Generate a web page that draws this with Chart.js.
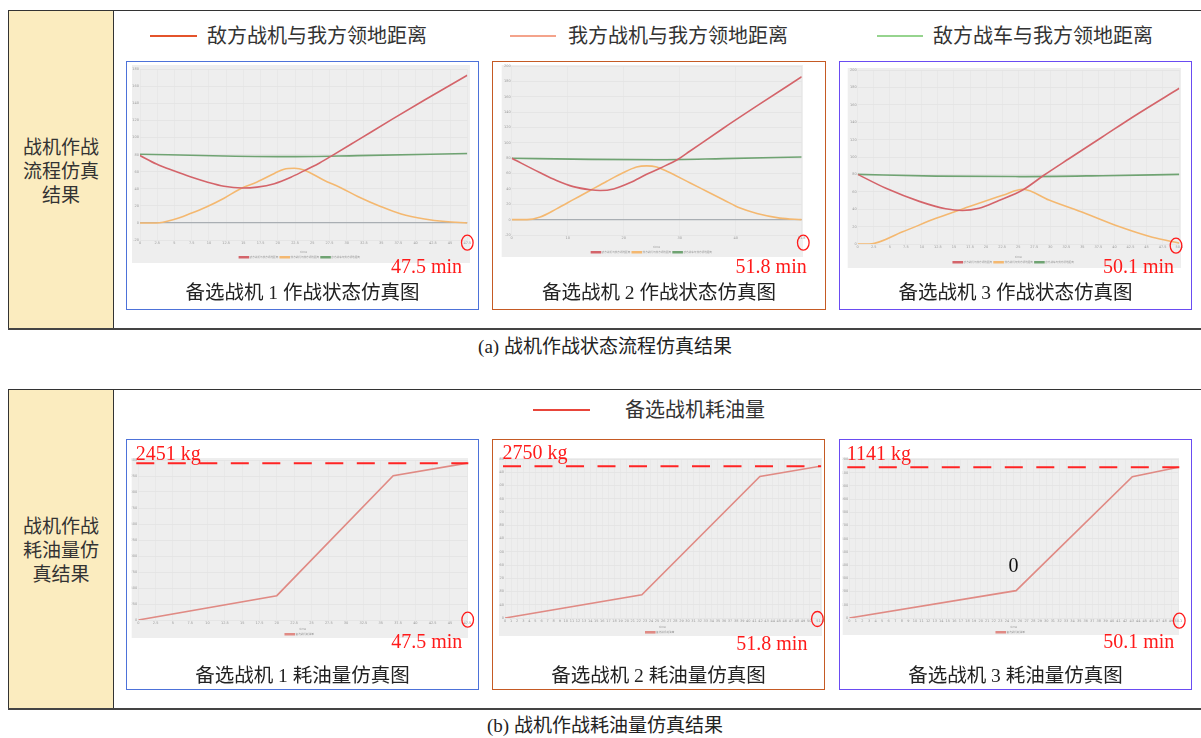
<!DOCTYPE html>
<html>
<head>
<meta charset="utf-8">
<script src="https://cdn.jsdelivr.net/npm/chart.js@4/dist/chart.umd.min.js"></script>
<style>
html,body{margin:0;padding:0;background:#fff;}
body{width:1201px;height:738px;position:relative;overflow:hidden;font-family:"Liberation Serif","Noto Sans CJK SC",serif;color:#333;}
.panel{position:absolute;left:8px;width:1195px;box-sizing:border-box;border-top:1px solid #333;border-bottom:2px solid #444;}
.side{position:absolute;left:0;top:0;bottom:0;width:106px;box-sizing:border-box;background:#fbecbf;border-left:1.5px solid #333;border-right:1.5px solid #333;display:flex;align-items:center;justify-content:center;text-align:center;font-family:"Noto Sans CJK SC",sans-serif;font-size:19px;line-height:24px;color:#333;}
.box{position:absolute;box-sizing:border-box;border:1.5px solid;pointer-events:none;}
canvas{position:absolute;}
.sub{position:absolute;text-align:center;font-size:19.5px;line-height:24px;color:#222;white-space:nowrap;}
.leg{position:absolute;font-size:20px;line-height:24px;white-space:nowrap;color:#333;}
.legline{position:absolute;height:1.6px;}
.cap{position:absolute;left:0;width:1210px;text-align:center;font-size:19px;line-height:24px;color:#222;}
</style>
</head>
<body>
<div class="panel" style="top:10px;height:320px;"><div class="side">战机作战<br>流程仿真<br>结果</div></div>
<div class="panel" style="top:389px;height:321px;"><div class="side">战机作战<br>耗油量仿<br>真结果</div></div>

<div class="legline" style="left:150px;top:35px;width:47px;background:#e4532b;"></div>
<div class="leg" style="left:207px;top:24px;">敌方战机与我方领地距离</div>
<div class="legline" style="left:510px;top:35px;width:46px;background:#f4a38b;"></div>
<div class="leg" style="left:568px;top:24px;">我方战机与我方领地距离</div>
<div class="legline" style="left:877px;top:35px;width:46px;background:#96d48e;"></div>
<div class="leg" style="left:933px;top:24px;">敌方战车与我方领地距离</div>
<div class="legline" style="left:533px;top:409px;width:57px;background:#e8453a;"></div>
<div class="leg" style="left:625px;top:398px;">备选战机耗油量</div>

<canvas id="a1"></canvas><canvas id="a2"></canvas><canvas id="a3"></canvas>
<canvas id="b1"></canvas><canvas id="b2"></canvas><canvas id="b3"></canvas>

<div class="box" style="left:126px;top:61px;width:353px;height:249px;border-color:#4d72d9;"></div>
<div class="box" style="left:492px;top:61px;width:334px;height:249px;border-color:#c55a24;"></div>
<div class="box" style="left:839px;top:61px;width:353px;height:249px;border-color:#6a4cf2;"></div>
<div class="box" style="left:126px;top:439px;width:353px;height:251px;border-color:#4d72d9;"></div>
<div class="box" style="left:492px;top:439px;width:333px;height:251px;border-color:#c55a24;"></div>
<div class="box" style="left:839px;top:439px;width:353px;height:251px;border-color:#6a4cf2;"></div>

<div class="sub" style="left:126px;width:353px;top:281px;">备选战机 1 作战状态仿真图</div>
<div class="sub" style="left:492px;width:334px;top:281px;">备选战机 2 作战状态仿真图</div>
<div class="sub" style="left:839px;width:353px;top:281px;">备选战机 3 作战状态仿真图</div>
<div class="sub" style="left:126px;width:353px;top:664px;">备选战机 1 耗油量仿真图</div>
<div class="sub" style="left:492px;width:333px;top:664px;">备选战机 2 耗油量仿真图</div>
<div class="sub" style="left:839px;width:353px;top:664px;">备选战机 3 耗油量仿真图</div>

<div class="cap" style="top:335px;">(a) 战机作战状态流程仿真结果</div>
<div class="cap" style="top:714px;">(b) 战机作战耗油量仿真结果</div>

<script>
// Mission duration of each candidate aircraft (min)
const missionMinutes = [47.5, 51.8, 50.1];

// Aircraft 1: distances to own territory (km) over time (min)
const a1EnemyT = [0, 2.4, 4.9, 7.3, 9.7, 12.2, 14.8, 17.0, 19.5, 21.9, 23.8, 25.8, 27.7, 31.6, 36.5, 41.3, 47.5];
const a1EnemyD = [79, 69, 61, 54, 48, 43, 41, 42, 46, 53.5, 61, 69, 78, 97, 121, 144, 173];
const a1OwnT = [0, 2.4, 4.9, 7.3, 9.7, 12.2, 14.8, 17.0, 19.5, 20.9, 22.4, 23.8, 26.7, 29.2, 31.6, 35.0, 37.9, 41.3, 44.3, 47.5];
const a1OwnD = [0, 0, 4, 11, 19, 29, 41, 48, 58, 63, 64, 62, 50, 41, 31, 19, 10.5, 4.7, 1.6, 0];
const a1VehT = [0, 12.2, 21.9, 31.6, 47.5];
const a1VehD = [80.5, 78.5, 77.7, 78.9, 81.3];

// Aircraft 2
const a2EnemyT = [0, 5.1, 8.0, 11.0, 14.0, 15.8, 18.2, 21.1, 24.1, 26.5, 29.8, 31.8, 37.8, 43.8, 51.8];
const a2EnemyD = [80, 61, 51, 43, 39, 38, 40, 48, 59, 67, 79, 89, 119, 148, 186];
const a2OwnT = [0, 2.7, 5.1, 8.0, 11.0, 14.0, 17.0, 19.9, 22.3, 24.1, 25.9, 27.7, 31.8, 34.8, 37.8, 40.8, 43.8, 47.9, 51.8];
const a2OwnD = [0, 0, 3.5, 14, 26, 38, 50, 61, 68.5, 70, 68.5, 63, 48, 37, 26, 15, 8, 2, 0];
const a2VehT = [0, 14.0, 25.9, 37.8, 51.8];
const a2VehD = [80, 78.5, 78, 79.4, 81.6];

// Aircraft 3
const a3EnemyT = [0, 4.4, 9.6, 13.7, 16.3, 18.9, 22.0, 25.7, 29.0, 32.9, 38.1, 43.3, 50.1];
const a3EnemyD = [80, 64, 49, 40.5, 38.5, 41, 50, 62, 79, 98, 123, 148, 179];
const a3OwnT = [0, 1.8, 7.0, 12.2, 17.4, 22.6, 25.7, 29.8, 35.5, 40.7, 45.9, 50.1];
const a3OwnD = [0, 0, 14, 29.5, 43, 56, 63, 50.5, 35, 20, 7.7, 1];
const a3VehT = [0, 12.2, 25.2, 38.1, 50.1];
const a3VehD = [80, 78, 77.5, 78.5, 80];

// Cumulative fuel consumption (kg) over time (min)
const b1FuelT = [0, 20.0, 36.8, 47.5];
const b1FuelKg = [0, 380, 2255, 2451];
const b2FuelT = [0, 22.5, 41.9, 51.8];
const b2FuelKg = [0, 422, 2563, 2750];
const b3FuelT = [0, 25.4, 43.1, 50.1];
const b3FuelKg = [0, 207, 1070, 1141];

const seriesNames = ['敌方战机与我方领地距离', '我方战机与我方领地距离', '敌方战车与我方领地距离'];
const fuelName = '备选战机耗油量';

const RED = '#ff1a1a';
const COL_ENEMY = '#d4646a', COL_OWN = '#f4b870', COL_VEH = '#6fa372', COL_FUEL = '#e08a84';

// Grey screenshot panel, end-time ring/label, fuel ceiling line
const overlay = {
  id: 'overlay',
  beforeDraw(chart, args, o) {
    const ctx = chart.ctx, f = o.frame;
    ctx.save();
    ctx.fillStyle = '#eeeeee';
    ctx.fillRect(f[0], f[1], f[2] - f[0], f[3] - f[1]);
    ctx.restore();
  },
  afterDraw(chart, args, o) {
    const ctx = chart.ctx, a = chart.chartArea, x = chart.scales.x, y = chart.scales.y;
    ctx.save();
    ctx.font = '20px "Liberation Serif"';
    ctx.textBaseline = 'alphabetic';
    if (o.fuel !== undefined) {
      const yy = y.getPixelForValue(o.fuel);
      ctx.strokeStyle = '#ff2424';
      ctx.lineWidth = 2;
      ctx.setLineDash([18, 13.5]);
      ctx.beginPath();
      ctx.moveTo(a.left - 2, yy);
      ctx.lineTo(a.right + 1, yy);
      ctx.stroke();
      ctx.setLineDash([]);
      ctx.fillStyle = RED;
      ctx.textAlign = 'left';
      ctx.fillText(o.fuel + ' kg', a.left - 2.5, a.top);
    }
    const cx = x.getPixelForValue(o.minutes) + o.ring[0];
    const cy = a.bottom + o.ring[1];
    ctx.strokeStyle = RED;
    ctx.lineWidth = 1.3;
    ctx.beginPath();
    ctx.ellipse(cx, cy, 5.8, 7.5, 0, 0, Math.PI * 2);
    ctx.stroke();
    ctx.fillStyle = RED;
    ctx.textAlign = 'right';
    ctx.fillText(o.minutes + ' min', a.right + o.label[0], a.bottom + o.label[1]);
    if (o.note) {
      ctx.fillStyle = '#111';
      ctx.textAlign = 'center';
      ctx.fillText(o.note.text, x.getPixelForValue(o.note.x) - 2.5, y.getPixelForValue(o.note.y) - 19);
    }
    ctx.restore();
  }
};

function line(label, t, v, color, smooth) {
  return {
    label: label,
    data: t.map((tt, i) => ({ x: tt, y: v[i] })),
    borderColor: color,
    backgroundColor: color,
    borderWidth: 1.6,
    pointRadius: 0,
    cubicInterpolationMode: smooth ? 'monotone' : 'default',
    tension: 0
  };
}

function build(c) {
  const cv = document.getElementById(c.id);
  cv.width = c.box[2];
  cv.height = c.box[3];
  cv.style.left = c.box[0] + 'px';
  cv.style.top = c.box[1] + 'px';
  const tiny = { family: '"DejaVu Sans"', size: 3.5 };
  new Chart(cv, {
    type: 'line',
    data: { datasets: c.datasets },
    plugins: [overlay],
    options: {
      responsive: false,
      animation: false,
      devicePixelRatio: 1,
      events: [],
      layout: { padding: c.pad },
      plugins: {
        tooltip: { enabled: false },
        legend: {
          position: 'bottom',
          maxHeight: c.legH,
          labels: { font: { family: '"Noto Sans CJK SC"', size: 2.6 }, color: '#9a9a9a', boxWidth: 9, boxHeight: 1, padding: 2 }
        },
        overlay: c.overlay
      },
      scales: {
        x: {
          type: 'linear', min: 0, max: c.overlay.minutes,
          ticks: { stepSize: c.xStep, font: tiny, color: '#9a9a9a', maxRotation: 0, autoSkip: false, padding: 1 },
          grid: { color: '#e6e6e6', lineWidth: 0.8, drawTicks: false },
          border: { display: false },
          title: { display: true, text: 'time', font: { family: '"DejaVu Sans"', size: 3 }, color: '#9a9a9a', padding: 0 },
          afterFit(s) { s.height = c.xH; }
        },
        y: {
          min: c.yMin, max: c.yMax,
          ticks: { stepSize: c.yStep, font: tiny, color: '#9a9a9a', padding: 1 },
          grid: {
            color: (ctx) => (ctx.tick && ctx.tick.value === 0 && c.yMin < 0) ? '#a9aeb3' : '#e2e2e2',
            lineWidth: (ctx) => (ctx.tick && ctx.tick.value === 0 && c.yMin < 0) ? 1.2 : 0.8,
            drawTicks: false
          },
          border: { display: false },
          afterFit(s) { s.width = c.yW; }
        }
      }
    }
  });
}

const specs = [
  { id: 'a1', box: [126, 61, 353, 249], pad: { left: 6, top: 8.3, right: 11.7, bottom: 47 }, yW: 8, xH: 14, legH: 9,
    xStep: 2.5, yMin: -20, yMax: 180, yStep: 20,
    datasets: [line(seriesNames[0], a1EnemyT, a1EnemyD, COL_ENEMY, true), line(seriesNames[1], a1OwnT, a1OwnD, COL_OWN, true), line(seriesNames[2], a1VehT, a1VehD, COL_VEH, true)],
    overlay: { frame: [6, 4, 344, 202], minutes: missionMinutes[0], ring: [0, 2.7], label: [-5.3, 33] } },
  { id: 'a2', box: [492, 61, 334, 249], pad: { left: 9.7, top: 5, right: 24.3, bottom: 53 }, yW: 10, xH: 14, legH: 8,
    xStep: 10, yMin: -20, yMax: 200, yStep: 20,
    datasets: [line(seriesNames[0], a2EnemyT, a2EnemyD, COL_ENEMY, true), line(seriesNames[1], a2OwnT, a2OwnD, COL_OWN, true), line(seriesNames[2], a2VehT, a2VehD, COL_VEH, true)],
    overlay: { frame: [9.7, 4, 311, 196], minutes: missionMinutes[1], ring: [1.6, 7.7], label: [5, 38] } },
  { id: 'a3', box: [839, 61, 353, 249], pad: { left: 8.7, top: 9, right: 12.7, bottom: 42 }, yW: 10, xH: 15, legH: 9,
    xStep: 2.5, yMin: 0, yMax: 200, yStep: 20,
    datasets: [line(seriesNames[0], a3EnemyT, a3EnemyD, COL_ENEMY, true), line(seriesNames[1], a3OwnT, a3OwnD, COL_OWN, true), line(seriesNames[2], a3VehT, a3VehD, COL_VEH, true)],
    overlay: { frame: [8.7, 7, 342, 207], minutes: missionMinutes[2], ring: [-3.3, 1.7], label: [-5.3, 29] } },
  { id: 'b1', box: [126, 439, 353, 251], pad: { left: 5.7, top: 21, right: 11.7, bottom: 52 }, yW: 6.6, xH: 11, legH: 7,
    xStep: 2.5, yMin: 0, yMax: 2500, yStep: 250,
    datasets: [line(fuelName, b1FuelT, b1FuelKg, COL_FUEL, false)],
    overlay: { frame: [5.7, 19, 342, 199], minutes: missionMinutes[0], ring: [0.4, -0.3], label: [-5, 28], fuel: b1FuelKg[b1FuelKg.length - 1] } },
  { id: 'b2', box: [492, 439, 333, 251], pad: { left: 7, top: 20, right: 4, bottom: 54 }, yW: 6, xH: 11, legH: 7,
    xStep: 1, yMin: 0, yMax: 2880, yStep: 240,
    datasets: [line(fuelName, b2FuelT, b2FuelKg, COL_FUEL, false)],
    overlay: { frame: [7, 19, 330, 197], minutes: missionMinutes[1], ring: [-2.7, 1], label: [-12.7, 31.7], fuel: b2FuelKg[b2FuelKg.length - 1] } },
  { id: 'b3', box: [839, 439, 353, 251], pad: { left: 3.7, top: 20.5, right: 13.7, bottom: 55 }, yW: 6.6, xH: 11, legH: 6,
    xStep: 1, yMin: 0, yMax: 1200, yStep: 100,
    datasets: [line(fuelName, b3FuelT, b3FuelKg, COL_FUEL, false)],
    overlay: { frame: [3.7, 19, 340, 196], minutes: missionMinutes[2], ring: [1, 2.7], label: [-4, 30], fuel: b3FuelKg[b3FuelKg.length - 1],
      note: { text: '0', x: b3FuelT[1], y: b3FuelKg[1] } } }
];

specs.forEach(build);
</script>
</body>
</html>
